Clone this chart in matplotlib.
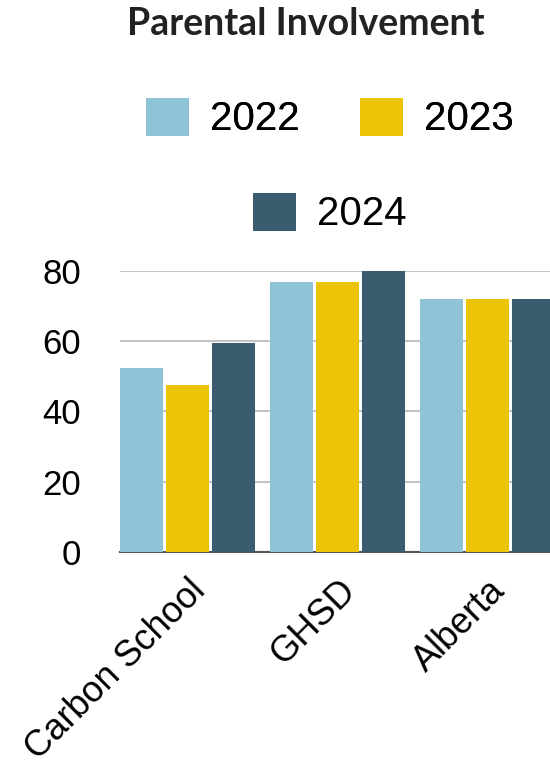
import matplotlib.pyplot as plt
import numpy as np

# data
categories = ["Carbon School", "GHSD", "Alberta"]
years = ["2022", "2023", "2024"]
vals_2022 = [52.5, 77, 72]
vals_2023 = [47.5, 77, 72]
vals_2024 = [59.5, 80, 72]
colors = ["#8EC4D6", "#ECC307", "#3B5C6F"]

fig = plt.figure(figsize=(5.5, 7.68), dpi=100)
W, H = 550, 768
# axes box in pixels: left 120, right 555, top 271, bottom 552
ax = fig.add_axes([120 / W, 1 - 552 / H, 435 / W, (552 - 271) / H])

x = np.arange(len(categories))
step = 46 / 150
width = 43 / 150
series = [vals_2022, vals_2023, vals_2024]
for i, (vals, c, yr) in enumerate(zip(series, colors, years)):
    ax.bar(x + (i - 1) * step, vals, width, color=c, label=yr, zorder=3)

ax.set_xlim(-0.45, 2.45)
ax.set_ylim(0, 80)
ax.set_yticks([0, 20, 40, 60, 80])
ax.yaxis.grid(True, color="#c4c4c4", lw=1.5, zorder=0)
for s in ["top", "right", "left"]:
    ax.spines[s].set_visible(False)
ax.spines["bottom"].set_color("#555555")
ax.spines["bottom"].set_linewidth(1.5)
ax.tick_params(axis="y", length=0, pad=28, labelsize=25)
ax.tick_params(axis="x", length=0, pad=15, labelsize=26)
for lbl in ax.get_yticklabels():
    lbl.set_fontfamily("Liberation Sans")
ax.set_xticks(x)
ax.set_xticklabels(categories, rotation=45, ha="right", rotation_mode="anchor",
                   family="Liberation Sans")

fig.text(306 / W, 1 - 24 / H, "Parental Involvement", ha="center", va="center",
         fontsize=27, fontweight="bold", family="Lato", color="#222222")

handles, labels = ax.get_legend_handles_labels()
leg_kw = dict(frameon=False, loc="center", prop={"family": "Liberation Sans", "size": 29},
              handlelength=1.07, handleheight=1.07, handletextpad=0.52,
              columnspacing=1.5, borderpad=0, borderaxespad=0)
leg1 = fig.legend(handles[:2], labels[:2], ncol=2,
                  bbox_to_anchor=(330 / W, 1 - 118 / H), **leg_kw)
fig.add_artist(leg1)
fig.legend(handles[2:], labels[2:], ncol=1,
           bbox_to_anchor=(330 / W, 1 - 213 / H), **leg_kw)

fig.savefig("out.png", dpi=100)
